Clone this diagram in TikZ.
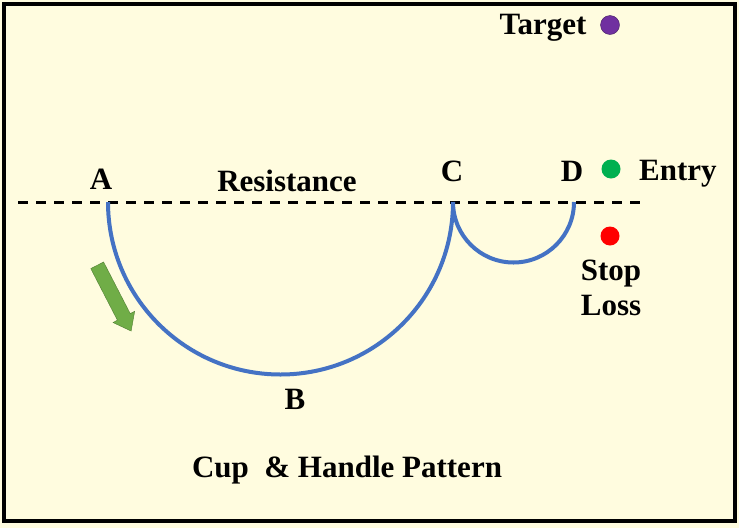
\documentclass[tikz,border=0pt]{standalone}
\usepackage{fontspec}
\setmainfont{Liberation Serif}
\usepackage{tikz}
\usetikzlibrary{shapes,arrows,positioning}
\definecolor{paper}{HTML}{FFFCDF}
\definecolor{cupblue}{HTML}{4472C4}
\definecolor{arrowgreen}{HTML}{70AD47}
\definecolor{arrowedge}{HTML}{507E32}
\definecolor{entrygreen}{HTML}{00B050}
\definecolor{targetpurple}{HTML}{7030A0}
\tikzstyle{mylabel} = [font=\fontsize{31}{34}\selectfont\bfseries, inner sep=0pt, anchor=base]
\tikzstyle{mydot} = [circle, minimum size=19pt, inner sep=0pt]
\tikzstyle{cupline} = [draw=cupblue, line width=4pt]

\begin{document}
\begin{tikzpicture}[x=1pt,y=-1pt]
\fill[paper] (0,0) rectangle (739,528);
\useasboundingbox (0,0) rectangle (739,528);
\draw[line width=4pt] (4,4) rectangle (735,521);   %cornice

% linea di resistenza
\coordinate (lineL) at (18,202);
\coordinate (lineR) at (645,202);
\coordinate (A) at (108,202);
\coordinate (C) at (453,202);
\coordinate (D) at (574,202);
\draw[line width=3pt, dash pattern=on 10pt off 8pt] (lineL) -- (lineR);

% tazza e manico
\draw[cupline] (A) arc[start angle=180, end angle=0, radius=172.5];
\draw[cupline] (C) arc[start angle=180, end angle=0, radius=60.5];

\node [mylabel] (labA) at (101,189) {A};
\node [mylabel] (labres) at (287,191) {Resistance};
\node [mylabel] (labC) at (452,181) {C};
\node [mylabel] (labD) at (572,181) {D};
\node [mylabel] (labB) at (295,409) {B};

% punti
\node [mydot, fill=targetpurple, draw=targetpurple!60!black, thin] (target) at (610,25) {};
\node [mydot, fill=entrygreen] (entry) at (611,169) {};
\node [mydot, fill=red] (stop) at (610,236) {};
\node [mylabel] (labtarget) at (543,34) {Target};
\node [mylabel, anchor=base west] (labentry) at (639,180) {Entry};
\node [mylabel] (labstop) at (611,280) {Stop};
\node [mylabel] (labloss) at (611,315) {Loss};

% freccia
\node [single arrow, fill=arrowgreen, draw=arrowedge, thin, rotate=-62.7,
       inner sep=7pt, minimum height=74pt, single arrow head extend=5pt,
       single arrow tip angle=75] (arrow) at (112,294) {};

\node [mylabel] (title) at (347,477) {Cup\ \ \& Handle Pattern};
\end{tikzpicture}
\end{document}
